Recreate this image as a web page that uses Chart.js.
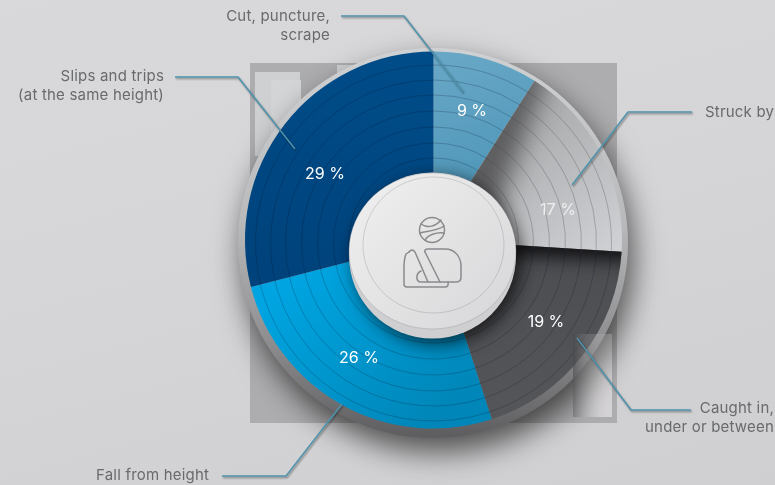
<!DOCTYPE html>
<html>
<head>
<meta charset="utf-8">
<title>Accident causes</title>
<script src="https://cdn.jsdelivr.net/npm/chart.js@4"></script>
<style>
  html, body { margin: 0; padding: 0; }
  body { width: 775px; height: 485px; overflow: hidden; background: linear-gradient(165deg, #d9d9db 0%, #d5d5d7 50%, #cfcfd1 100%); }
  canvas { display: block; }
</style>
</head>
<body>
<canvas id="pieChart" width="775" height="485"></canvas>
<script>
// Share of accidents per cause, clockwise from twelve o'clock
const causes = ['Cut, puncture, scrape', 'Struck by', 'Caught in, under or between', 'Fall from height', 'Slips and trips (at the same height)'];
const shares = [9, 17, 19, 26, 29];

const FONT = 'Inter, "Open Sans", sans-serif';
const CX = 433.5, CY = 240;

function sliceFill(ctx, i) {
  const stops = [
    [[433, 50, 480, 190], '#6aa8c7', '#4f97b9'],
    [[510, 90, 625, 250], '#a3a4a6', '#d1d2d5'],
    [[520, 250, 520, 420], '#4c4d51', '#55565a'],
    [[300, 280, 420, 430], '#00a4e0', '#0086b8'],
    [[350, 60, 300, 290], '#004c88', '#00427b']
  ][i];
  const g = ctx.createLinearGradient(...stops[0]);
  g.addColorStop(0, stops[1]);
  g.addColorStop(1, stops[2]);
  return g;
}

function disc(ctx, x, y, rx, ry) {
  ctx.beginPath();
  ctx.ellipse(x, y, rx, ry, 0, 0, Math.PI * 2);
}

// grey backing panel and the raised plate under the slices
const platePlugin = {
  id: 'plate',
  beforeDatasetsDraw(chart) {
    const ctx = chart.ctx;
    ctx.save();
    ctx.fillStyle = '#adadaf';
    ctx.fillRect(250, 63, 367, 360);
    ctx.fillStyle = '#cfd0d2';
    ctx.fillRect(255, 72, 45, 84);
    ctx.fillRect(337, 65, 30, 30);
    ctx.fillStyle = '#d4d5d7';
    ctx.fillRect(271, 80, 30, 76);
    ctx.fillStyle = '#d2d0d2';
    ctx.fillRect(573, 334, 39, 83);

    const plate = ctx.createLinearGradient(0, 48, 0, 438);
    plate.addColorStop(0, '#d0d1d3');
    plate.addColorStop(0.45, '#b8b9bb');
    plate.addColorStop(0.75, '#8e8e90');
    plate.addColorStop(1, '#5d5d5f');
    ctx.shadowColor = 'rgba(0,0,0,0.62)';
    ctx.shadowBlur = 30;
    ctx.shadowOffsetX = 5;
    ctx.shadowOffsetY = 14;
    ctx.fillStyle = plate;
    disc(ctx, 433, 243, 195, 195);
    ctx.fill();
    ctx.restore();
  }
};

function slicePath(ctx, a) {
  ctx.beginPath();
  ctx.arc(a.x, a.y, a.outerRadius, a.startAngle, a.endAngle);
  ctx.arc(a.x, a.y, a.innerRadius, a.endAngle, a.startAngle, true);
  ctx.closePath();
}

// soft shadow cast along a slice's leading edge, wider near the hub
function edgeShadow(ctx, a, colour, innerWidth, outerWidth, blur) {
  const t = a.startAngle;
  const along = [Math.cos(t), Math.sin(t)];
  const across = [-along[1], along[0]];
  const at = (r, w) => [a.x + along[0] * r + across[0] * w, a.y + along[1] * r + across[1] * w];
  ctx.save();
  slicePath(ctx, a);
  ctx.clip();
  ctx.filter = 'blur(' + blur + 'px)';
  ctx.fillStyle = colour;
  ctx.beginPath();
  [at(40, -20), at(a.outerRadius + 20, -20), at(a.outerRadius + 20, outerWidth), at(40, innerWidth)].forEach((p, i) => i ? ctx.lineTo(p[0], p[1]) : ctx.moveTo(p[0], p[1]));
  ctx.closePath();
  ctx.fill();
  ctx.restore();
}

// shading where one slice falls on the next, and the engraved rings
const ringsPlugin = {
  id: 'rings',
  afterDatasetsDraw(chart) {
    const ctx = chart.ctx;
    const arcs = chart.getDatasetMeta(0).data;
    edgeShadow(ctx, arcs[1], 'rgba(40,40,42,0.62)', 42, 5, 13);
    edgeShadow(ctx, arcs[2], 'rgba(8,8,10,0.9)', 10, 8, 9);

    ctx.save();
    const a0 = arcs[0];
    ctx.beginPath();
    ctx.arc(a0.x, a0.y, a0.outerRadius, 0, Math.PI * 2);
    ctx.clip();
    ctx.lineWidth = 1;
    [85, 100, 116, 132, 148, 163, 178].forEach(r => {
      arcs.forEach((a, i) => {
        ctx.strokeStyle = i === 1 ? 'rgba(70,70,75,0.3)' : 'rgba(0,20,40,0.22)';
        ctx.beginPath();
        ctx.arc(CX, CY + 3, r, a.startAngle, a.endAngle);
        ctx.stroke();
      });
    });
    ctx.restore();

    // pale patch lying over the rim, shaded on its inner side
    ctx.save();
    const patch = ctx.createLinearGradient(573, 0, 612, 0);
    patch.addColorStop(0, 'rgba(70,70,72,0.55)');
    patch.addColorStop(1, 'rgba(255,255,255,0.05)');
    ctx.fillStyle = patch;
    ctx.fillRect(573, 334, 39, 83);
    ctx.restore();
  }
};

function drawIcon(ctx) {
  ctx.save();
  ctx.strokeStyle = '#8b8b8e';
  ctx.lineWidth = 1.5;
  ctx.lineJoin = 'round';
  ctx.lineCap = 'round';
  disc(ctx, 432, 230, 12.5, 12.5);
  ctx.stroke();
  ctx.stroke(new Path2D('M421 224 C428 229 436 226 441 220 M420 233 C428 231 437 231 444 226 M425 240 C428 235 436 232 444 233'));
  // arm and sling
  ctx.stroke(new Path2D('M409 252 L406 254 C404 259 404 264 404 268 L404 284 Q404 287 407 287 L445 287 Q449 287 448 282'));
  ctx.stroke(new Path2D('M409 252 Q412 248 415 252 L428 282'));
  ctx.stroke(new Path2D('M425 252 Q424 249 428 249 L445 249 C455 249 461 257 461 266 L461 277 Q461 282 456 282 L421 282 C416 282 415 274 421 271'));
  ctx.stroke(new Path2D('M425 252 L440 282'));
  ctx.restore();
}

// centre hub with its icon
const hubPlugin = {
  id: 'hub',
  afterDatasetsDraw(chart) {
    const ctx = chart.ctx;
    ctx.save();
    ctx.shadowColor = 'rgba(0,0,0,0.7)';
    ctx.shadowBlur = 18;
    ctx.shadowOffsetX = 5;
    ctx.shadowOffsetY = 5;
    ctx.fillStyle = '#cfcfd1';
    disc(ctx, 432.5, 255.5, 83.5, 83);
    ctx.fill();
    ctx.shadowColor = 'transparent';
    const top = ctx.createLinearGradient(360, 180, 500, 320);
    top.addColorStop(0, '#efefef');
    top.addColorStop(1, '#d8d8da');
    ctx.fillStyle = top;
    disc(ctx, 432.5, 251, 83.5, 78);
    ctx.fill();
    ctx.strokeStyle = 'rgba(130,130,135,0.3)';
    ctx.lineWidth = 1;
    ctx.stroke();
    disc(ctx, 433.5, 245, 70.5, 68);
    ctx.stroke();
    ctx.restore();
    drawIcon(ctx);
  }
};

const shareLabelSpots = [[472, 111], [558, 210], [546, 322], [359, 358], [325, 174]];
const captionLines = [
  { lines: ['Cut, puncture,', 'scrape'], x: 330, y: 16, align: 'right' },
  { lines: ['Struck by'], x: 705, y: 112, align: 'left' },
  { lines: ['Caught in,', 'under or between'], x: 774, y: 408, align: 'right' },
  { lines: ['Fall from height'], x: 96, y: 475, align: 'left' },
  { lines: ['Slips and trips', '(at the same height)'], x: 164, y: 76, align: 'right' }
];
const leaders = [
  [[341, 16], [404, 16], [463, 92]],
  [[692, 112], [628, 112], [572, 185]],
  [[691, 410], [631, 410], [577, 338]],
  [[222, 476], [286, 476], [342, 404]],
  [[175, 77], [238, 77], [295, 149]]
];

// value labels, leader lines and captions
const labelsPlugin = {
  id: 'labels',
  afterDraw(chart) {
    const ctx = chart.ctx;
    ctx.save();
    ctx.textBaseline = 'middle';

    ctx.save();
    ctx.strokeStyle = '#4f93ad';
    ctx.lineWidth = 1.5;
    ctx.lineJoin = 'round';
    ctx.shadowColor = 'rgba(0,0,0,0.4)';
    ctx.shadowBlur = 2;
    ctx.shadowOffsetX = 1;
    ctx.shadowOffsetY = 1.5;
    leaders.forEach(pts => {
      ctx.beginPath();
      pts.forEach((p, i) => i ? ctx.lineTo(p[0], p[1]) : ctx.moveTo(p[0], p[1]));
      ctx.stroke();
    });
    ctx.restore();

    ctx.font = '400 16px ' + FONT;
    ctx.textAlign = 'center';
    shares.forEach((v, i) => {
      ctx.fillStyle = i === 1 ? '#f0f0f2' : '#ffffff';
      ctx.fillText(v + ' %', shareLabelSpots[i][0], shareLabelSpots[i][1]);
    });

    ctx.font = '400 15px ' + FONT;
    ctx.letterSpacing = '0.2px';
    ctx.fillStyle = '#696a6c';
    captionLines.forEach(c => {
      ctx.textAlign = c.align;
      c.lines.forEach((line, i) => ctx.fillText(line, c.x, c.y + i * 19.5));
    });
    ctx.restore();
  }
};

new Chart(document.getElementById('pieChart'), {
  type: 'doughnut',
  data: {
    labels: causes,
    datasets: [{
      data: shares,
      backgroundColor: c => sliceFill(c.chart.ctx, c.dataIndex),
      borderWidth: 0
    }]
  },
  options: {
    responsive: false,
    animation: false,
    cutout: 60,
    layout: { padding: { left: 245, right: 153, top: 51, bottom: 56 } },
    plugins: { legend: { display: false }, tooltip: { enabled: false } }
  },
  plugins: [platePlugin, ringsPlugin, hubPlugin, labelsPlugin]
});
</script>
</body>
</html>
